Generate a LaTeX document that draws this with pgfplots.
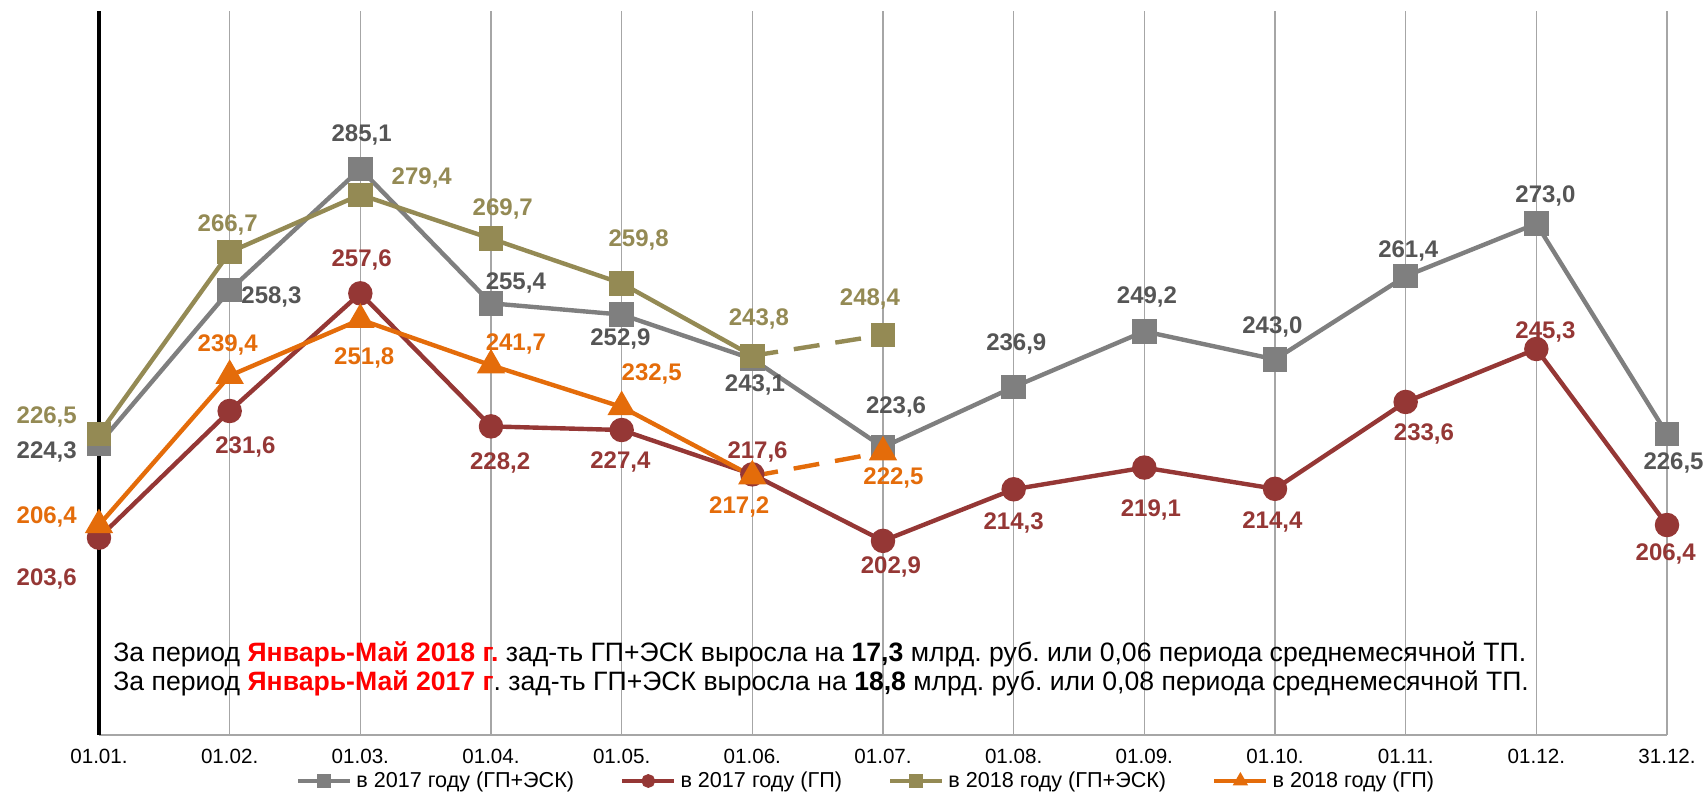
\documentclass[border=0pt]{standalone}
\usepackage{pgfplots}
\pgfplotsset{compat=1.18}
\usepackage{fontspec}
\setmainfont{Liberation Sans}

\definecolor{cgray}{HTML}{7F7F7F}
\definecolor{cgraytxt}{HTML}{555555}
\definecolor{cred}{HTML}{953735}
\definecolor{colive}{HTML}{948A54}
\definecolor{corange}{HTML}{E46C0A}
\definecolor{cgrid}{HTML}{A6A6A6}

\begin{document}
\frenchspacing
\begin{tikzpicture}[
  lbl/.style={font=\bfseries\fontsize{12}{14}\selectfont, inner sep=0pt}]
\begin{axis}[
  scale only axis,
  width=784pt, height=362pt,
  xmin=0, xmax=12, ymin=160, ymax=320,
  clip=false,
  axis x line*=bottom, axis y line*=left,
  x axis line style={draw=cgrid, line width=0.8pt, -},
  y axis line style={draw=black, line width=1.6pt, -},
  ytick=\empty,
  xtick={0,...,12},
  xticklabels={01.01.,01.02.,01.03.,01.04.,01.05.,01.06.,01.07.,01.08.,01.09.,01.10.,01.11.,01.12.,31.12.},
  xticklabel style={font=\fontsize{10.3}{12}\selectfont, yshift=-3.6pt},
  /pgf/number format/assume math mode=true,
  major tick length=0pt,
  xmajorgrids,
  grid style={draw=cgrid, line width=0.7pt},
  legend columns=4,
  legend style={at={(0.5,0)}, anchor=center, yshift=-23pt, xshift=-8pt, draw=none,
    font=\fontsize{10.8}{12}\selectfont,
    /tikz/every even column/.append style={column sep=21pt}},
  legend image code/.code={%
    \draw[mark repeat=2, mark phase=2, #1] plot coordinates {(0pt,0pt) (13pt,0pt) (26pt,0pt)};},
  legend image post style={mark size=2.3pt},
]
% 2017 (ГП+ЭСК)
\addplot[cgray, line width=2.2pt, mark=square*, mark size=5pt] coordinates {
  (0,224.3) (1,258.3) (2,285.1) (3,255.4) (4,252.9) (5,243.1) (6,223.6)
  (7,236.9) (8,249.2) (9,243.0) (10,261.4) (11,273.0) (12,226.5)};
\addlegendentry{в 2017 году (ГП+ЭСК)}
% 2017 (ГП)
\addplot[cred, line width=2.2pt, mark=*, mark size=5pt] coordinates {
  (0,203.6) (1,231.6) (2,257.6) (3,228.2) (4,227.4) (5,217.6) (6,202.9)
  (7,214.3) (8,219.1) (9,214.4) (10,233.6) (11,245.3) (12,206.4)};
\addlegendentry{в 2017 году (ГП)}
% 2018 (ГП+ЭСК)
\addplot[colive, line width=2.2pt, mark=square*, mark size=5pt] coordinates {
  (0,226.5) (1,266.7) (2,279.4) (3,269.7) (4,259.8) (5,243.8)};
\addlegendentry{в 2018 году (ГП+ЭСК)}
% 2018 (ГП)
\addplot[corange, line width=2.2pt, mark=triangle*, mark size=6pt] coordinates {
  (0,206.4) (1,239.4) (2,251.8) (3,241.7) (4,232.5) (5,217.2)};
\addlegendentry{в 2018 году (ГП)}
% forecast segments
\addplot[forget plot, colive, line width=2.2pt, dash pattern=on 13pt off 8pt,
  mark=square*, mark size=5pt, mark indices={2}, mark options={solid}] coordinates {
  (5,243.8) (6,248.4)};
\addplot[forget plot, corange, line width=2.2pt, dash pattern=on 13pt off 8pt,
  mark=triangle*, mark size=6pt, mark indices={2}, mark options={solid}] coordinates {
  (5,217.2) (6,222.5)};

% value labels: 2017 (ГП+ЭСК)
\node[lbl, text=cgraytxt] at (-0.40,222.5) {224,3};
\node[lbl, text=cgraytxt] at (1.32,256.7) {258,3};
\node[lbl, text=cgraytxt] at (2.01,292.7) {285,1};
\node[lbl, text=cgraytxt] at (3.19,259.8) {255,4};
\node[lbl, text=cgraytxt] at (3.99,247.5) {252,9};
\node[lbl, text=cgraytxt] at (5.02,237.4) {243,1};
\node[lbl, text=cgraytxt] at (6.10,232.4) {223,6};
\node[lbl, text=cgraytxt] at (7.02,246.5) {236,9};
\node[lbl, text=cgraytxt] at (8.02,256.7) {249,2};
\node[lbl, text=cgraytxt] at (8.98,250.1) {243,0};
\node[lbl, text=cgraytxt] at (10.02,267.0) {261,4};
\node[lbl, text=cgraytxt] at (11.07,279.2) {273,0};
\node[lbl, text=cgraytxt] at (12.05,220.1) {226,5};
% 2017 (ГП)
\node[lbl, text=cred] at (-0.40,194.4) {203,6};
\node[lbl, text=cred] at (1.12,223.7) {231,6};
\node[lbl, text=cred] at (2.01,265.0) {257,6};
\node[lbl, text=cred] at (3.07,220.1) {228,2};
\node[lbl, text=cred] at (3.99,220.3) {227,4};
\node[lbl, text=cred] at (5.04,222.5) {217,6};
\node[lbl, text=cred] at (6.06,197.1) {202,9};
\node[lbl, text=cred] at (7.00,206.9) {214,3};
\node[lbl, text=cred] at (8.05,209.8) {219,1};
\node[lbl, text=cred] at (8.98,207.1) {214,4};
\node[lbl, text=cred] at (10.14,226.6) {233,6};
\node[lbl, text=cred] at (11.07,249.0) {245,3};
\node[lbl, text=cred] at (11.99,199.9) {206,4};
% 2018 (ГП+ЭСК)
\node[lbl, text=colive] at (-0.40,230.2) {226,5};
\node[lbl, text=colive] at (0.985,272.7) {266,7};
\node[lbl, text=colive] at (2.47,283.1) {279,4};
\node[lbl, text=colive] at (3.09,276.3) {269,7};
\node[lbl, text=colive] at (4.13,269.4) {259,8};
\node[lbl, text=colive] at (5.05,252.0) {243,8};
\node[lbl, text=colive] at (5.90,256.4) {248,4};
% 2018 (ГП)
\node[lbl, text=corange] at (-0.40,208.1) {206,4};
\node[lbl, text=corange] at (0.985,246.3) {239,4};
\node[lbl, text=corange] at (2.03,243.4) {251,8};
\node[lbl, text=corange] at (3.19,246.5) {241,7};
\node[lbl, text=corange] at (4.23,239.8) {232,5};
\node[lbl, text=corange] at (4.90,210.5) {217,2};
\node[lbl, text=corange] at (6.08,216.7) {222,5};

% note
\node[anchor=base west, inner sep=0pt, font=\fontsize{13.3}{15}\selectfont] at (0.107,176.2)
  {За период {\bfseries\color{red}Январь-Май 2018 г.} зад-ть ГП+ЭСК выросла на \textbf{17,3} млрд. руб. или 0,06 периода среднемесячной ТП.};
\node[anchor=base west, inner sep=0pt, font=\fontsize{13.3}{15}\selectfont] at (0.107,169.9)
  {За период {\bfseries\color{red}Январь-Май 2017 г}. зад-ть ГП+ЭСК выросла на \textbf{18,8} млрд. руб. или 0,08 периода среднемесячной ТП.};

\coordinate (sw) at (rel axis cs:0,0);
\end{axis}
\pgfresetboundingbox
\path[use as bounding box] (sw) ++(-49.5pt,-33.5pt) rectangle ++(854pt,401pt);
\end{tikzpicture}
\end{document}
